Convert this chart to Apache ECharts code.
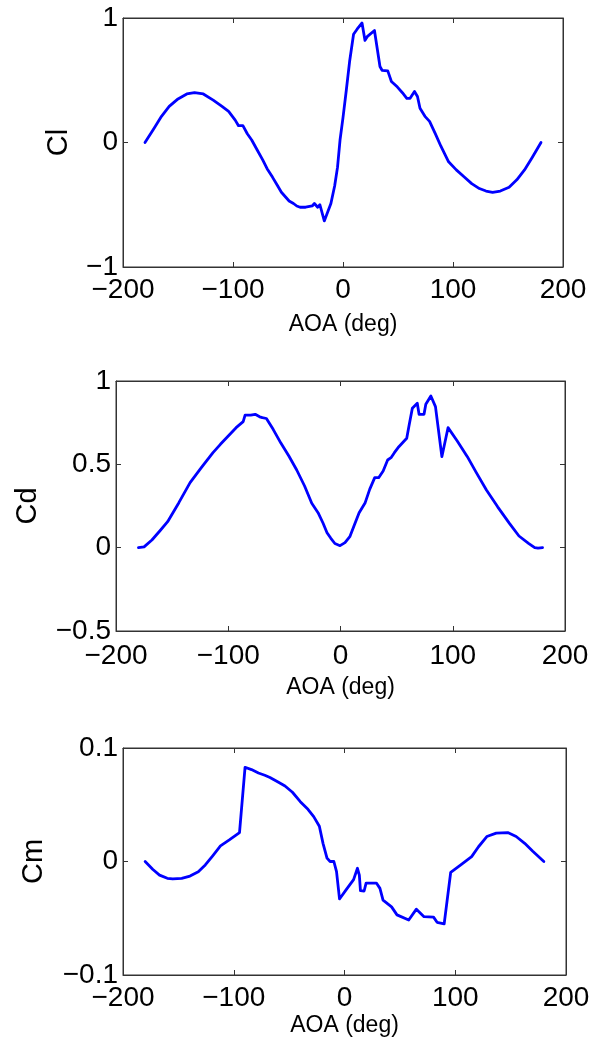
<!DOCTYPE html>
<html>
<head>
<meta charset="utf-8">
<script src="https://cdn.jsdelivr.net/npm/echarts@6/dist/echarts.min.js"></script>
<style>
html,body{margin:0;padding:0;background:#fff;}
#chart{width:596px;height:1039px;}
</style>
</head>
<body>
<div id="chart"></div>
<script>
// ---- Data ----
const xTicks = [-200, -100, 0, 100, 200];

const clAoa = [-180,-172,-165,-158,-150,-142,-135,-127,-118,-110,-104,-98,-95,-91,-87,-83,-78,-73,-69,-64,-60,-56,-52,-49,-45,-42,-39,-34,-28,-26,-23,-21,-17,-11,-7.6,-5,-2.7,0,3,6,9.6,12.8,17.3,20,22,28.6,30,33.6,35.5,40.7,44,49.5,54,58,61,65,67.7,70,74.5,78.7,84,89,96,103,110,117,124,130,136,143,151,158,165,172,180];
const clVals = [0,0.11,0.21,0.29,0.35,0.39,0.40,0.39,0.34,0.29,0.25,0.18,0.135,0.135,0.07,0.02,-0.06,-0.14,-0.21,-0.28,-0.34,-0.40,-0.44,-0.47,-0.49,-0.51,-0.52,-0.52,-0.51,-0.49,-0.52,-0.50,-0.63,-0.49,-0.35,-0.2,0.02,0.2,0.42,0.65,0.87,0.91,0.96,0.82,0.85,0.90,0.89,0.61,0.58,0.575,0.49,0.445,0.40,0.355,0.355,0.41,0.37,0.275,0.21,0.17,0.07,-0.03,-0.155,-0.22,-0.275,-0.33,-0.37,-0.39,-0.40,-0.39,-0.36,-0.30,-0.22,-0.12,0];

const cdAoa = [-180,-175,-168,-161,-154,-144,-134,-124,-113.6,-107,-100,-93,-86.7,-85,-80,-76,-72,-69.6,-66,-60,-53,-46,-39,-32,-25.6,-20,-15.6,-12,-8.6,-5,-0.4,4,8.3,12,16.6,22,26,30.5,34,38,42,45,48,52,59,61,64,68.4,70,74.4,76,80.5,84.6,87,90.3,95.8,104,113,121,130,140,150.5,159,167.5,173,176,180];
const cdVals = [0,0.005,0.046,0.10,0.156,0.27,0.39,0.48,0.57,0.62,0.67,0.72,0.756,0.795,0.795,0.80,0.785,0.78,0.775,0.71,0.626,0.55,0.466,0.37,0.266,0.21,0.148,0.09,0.056,0.025,0.012,0.03,0.066,0.13,0.21,0.27,0.35,0.42,0.42,0.46,0.526,0.54,0.57,0.606,0.656,0.73,0.836,0.866,0.80,0.80,0.86,0.91,0.846,0.72,0.546,0.72,0.64,0.546,0.45,0.346,0.245,0.146,0.07,0.026,0.0,-0.003,0];

const cmAoa = [-180,-173,-167,-160,-155,-147,-139.5,-132,-125.7,-119,-112,-104,-94.8,-89.8,-84,-77.7,-72,-67.3,-60,-53.7,-47,-39.9,-33,-27.8,-22.7,-19.4,-15.8,-13,-9.6,-7.2,-4.5,1.4,8.2,11.7,13.4,14.4,17.7,19.5,28.8,32,34.8,42.5,47.4,58,64.9,71.8,80.4,83.6,90,95.9,105,114.8,121,128.5,137,147.4,155,162.7,170,180];
const cmVals = [0,-0.007,-0.012,-0.0148,-0.0154,-0.0148,-0.0128,-0.009,-0.003,0.005,0.0137,0.019,0.0254,0.083,0.081,0.078,0.076,0.074,0.070,0.0665,0.061,0.0527,0.046,0.0395,0.031,0.016,0.003,0.0,0.0,-0.009,-0.033,-0.025,-0.016,-0.006,-0.012,-0.0257,-0.026,-0.019,-0.019,-0.0237,-0.034,-0.04,-0.047,-0.0515,-0.042,-0.0486,-0.049,-0.0536,-0.055,-0.0095,-0.003,0.0043,0.013,0.022,0.025,0.0255,0.022,0.016,0.009,0];

const panels = [
  {name: 'Cl', aoa: clAoa, vals: clVals, ymin: -1, ymax: 1, yint: 1,
   grid: {left: 123, top: 18, width: 440, height: 249}, yGap: 50, xGap: 46, xMargin: 9},
  {name: 'Cd', aoa: cdAoa, vals: cdVals, ymin: -0.5, ymax: 1, yint: 0.5,
   grid: {left: 116, top: 381, width: 449, height: 250}, yGap: 74, xGap: 45, xMargin: 11},
  {name: 'Cm', aoa: cmAoa, vals: cmVals, ymin: -0.1, ymax: 0.1, yint: 0.1,
   grid: {left: 123, top: 748, width: 443, height: 227}, yGap: 75, xGap: 39, xMargin: 9}
];

// ---- Build options ----
const FONT = "'Liberation Sans', Arial, Helvetica, sans-serif";
const fmt = v => String(Math.round(v * 1000) / 1000).replace('-', '\u2212');
const lineCol = '#333';
const grids = [], xAxes = [], yAxes = [], series = [];

panels.forEach((p, i) => {
  grids.push(Object.assign({show: true, borderColor: lineCol, borderWidth: 1, backgroundColor: '#fff'}, p.grid));
  const tickStyle = {show: true, inside: true, length: 5, lineStyle: {color: lineCol, width: 1}};
  xAxes.push({
    type: 'value', gridIndex: i, min: xTicks[0], max: xTicks[xTicks.length - 1], interval: 100,
    position: 'bottom',
    axisLine: {show: true, onZero: false, lineStyle: {color: lineCol, width: 1}},
    axisTick: tickStyle, splitLine: {show: false},
    axisLabel: {color: '#000', fontSize: 28, fontFamily: FONT, margin: p.xMargin, formatter: fmt},
    name: 'AOA (deg)', nameLocation: 'middle', nameGap: p.xGap,
    nameTextStyle: {color: '#000', fontSize: 23, fontFamily: FONT}
  });
  xAxes.push({
    type: 'value', gridIndex: i, min: xTicks[0], max: xTicks[xTicks.length - 1], interval: 100,
    position: 'top',
    axisLine: {show: true, onZero: false, lineStyle: {color: lineCol, width: 1}},
    axisTick: tickStyle, splitLine: {show: false}, axisLabel: {show: false}
  });
  yAxes.push({
    type: 'value', gridIndex: i, min: p.ymin, max: p.ymax, interval: p.yint,
    position: 'left',
    axisLine: {show: true, onZero: false, lineStyle: {color: lineCol, width: 1}},
    axisTick: tickStyle, splitLine: {show: false},
    axisLabel: {color: '#000', fontSize: 28, fontFamily: FONT, margin: 5, formatter: fmt},
    name: p.name, nameLocation: 'middle', nameGap: p.yGap, nameRotate: 90,
    nameTextStyle: {color: '#000', fontSize: 29, fontFamily: FONT}
  });
  yAxes.push({
    type: 'value', gridIndex: i, min: p.ymin, max: p.ymax, interval: p.yint,
    position: 'right',
    axisLine: {show: true, onZero: false, lineStyle: {color: lineCol, width: 1}},
    axisTick: tickStyle, splitLine: {show: false}, axisLabel: {show: false}
  });
  series.push({
    type: 'line', xAxisIndex: 2 * i, yAxisIndex: 2 * i,
    data: p.aoa.map((a, k) => [a, p.vals[k]]),
    showSymbol: false, symbol: 'none', smooth: false, animation: false,
    lineStyle: {color: '#0000ff', width: 2.8, join: 'round', cap: 'round'}
  });
});

const chart = echarts.init(document.getElementById('chart'), null, {renderer: 'canvas'});
chart.setOption({
  animation: false,
  backgroundColor: '#fff',
  grid: grids, xAxis: xAxes, yAxis: yAxes, series: series
});
</script>
</body>
</html>
